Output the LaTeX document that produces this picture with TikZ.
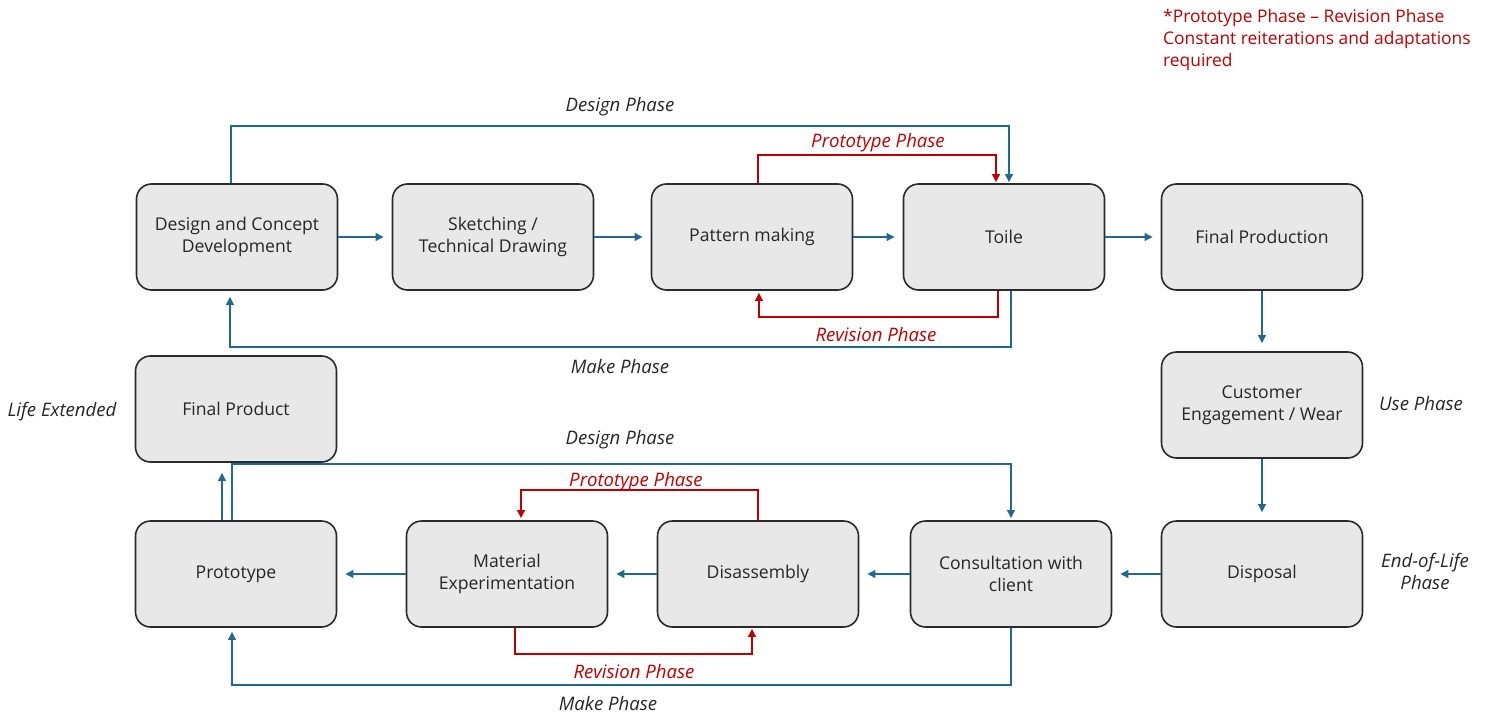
\documentclass[tikz,border=0pt]{standalone}
\usepackage{fontspec}
\setmainfont{Open Sans}
\usetikzlibrary{arrows.meta}
\definecolor{flowblue}{HTML}{1F6A8E}
\definecolor{loopred}{HTML}{C00000}
\definecolor{boxfill}{HTML}{E8E8E8}
\definecolor{boxline}{HTML}{2A2A2A}
\definecolor{ink}{HTML}{262626}
\tikzset{
  stage/.style={draw=boxline, line width=1.6pt, fill=boxfill, rounded corners=15pt,
    minimum width=201pt, minimum height=106pt, align=center, text=ink,
    font=\fontsize{17.6}{22}\selectfont, inner sep=0pt},
  tipb/.style={-{Triangle[length=8pt,width=7.5pt]}},
  flow/.style={draw=flowblue, line width=2pt, tipb, shorten >=8pt},
  phase/.style={draw=flowblue, line width=2pt, tipb},
  loop/.style={draw=loopred, line width=2pt, tipb},
  phaselabel/.style={font=\fontsize{18.6}{22}\selectfont\itshape, text=ink, inner sep=1pt},
  looplabel/.style={font=\fontsize{18.6}{22}\selectfont\itshape, text=loopred, inner sep=1pt},
}
\begin{document}
\begin{tikzpicture}[x=1pt, y=-1pt]
\useasboundingbox (0,0) rectangle (1489,717);

% upper row
\node[stage] (dcd)     at (237,237)  {Design and Concept\\Development};
\node[stage] (sketch)  at (493,237)  {Sketching /\\Technical Drawing};
\node[stage] (pattern) at (752,237)  {Pattern making};
\node[stage] (toile)   at (1004,237) {Toile};
\node[stage] (fprodn)  at (1262,237) {Final Production};

% middle row
\node[stage] (fproduct) at (236,409)  {Final Product};
\node[stage] (wear)     at (1262,405) {Customer\\Engagement / Wear};

% lower row
\node[stage] (proto)   at (236,574)  {Prototype};
\node[stage] (mat)     at (507,574)  {Material\\Experimentation};
\node[stage] (dis)     at (758,574)  {Disassembly};
\node[stage] (consult) at (1011,574) {Consultation with\\client};
\node[stage] (disp)    at (1262,574) {Disposal};

% main flow
\draw[flow] (dcd) -- (sketch);
\draw[flow] (sketch) -- (pattern);
\draw[flow] (pattern) -- (toile);
\draw[flow] (toile) -- (fprodn);
\draw[flow] (fprodn) -- (wear);
\draw[flow] (wear) -- (disp);
\draw[flow] (disp) -- (consult);
\draw[flow] (consult) -- (dis);
\draw[flow] (dis) -- (mat);
\draw[flow] (mat) -- (proto);
\draw[flow, shorten >=10pt] ([xshift=-14pt]proto.north) -- ([xshift=-14pt]fproduct.south);

% design / make phase loops, upper row
\draw[phase, shorten >=1pt] ([xshift=-6pt]dcd.north) -- ++(0,-57) -| ([xshift=5pt]toile.north);
\draw[phase, shorten >=6pt] ([xshift=7pt]toile.south) -- ++(0,56) -| ([xshift=-7pt]dcd.south);

% prototype / revision loops, upper row
\draw[loop, shorten >=1pt] ([xshift=6pt]pattern.north) -- ++(0,-28) -| ([xshift=-8pt]toile.north);
\draw[loop, shorten >=2pt] ([xshift=-6pt]toile.south) -- ++(0,26) -| ([xshift=7pt]pattern.south);

% design / make phase loops, lower row
\draw[phase, shorten >=2pt] ([xshift=-4pt]proto.north) -- ++(0,-56) -| (consult.north);
\draw[phase, shorten >=4pt] (consult.south) -- ++(0,57) -| ([xshift=-4pt]proto.south);

% prototype / revision loops, lower row
\draw[loop, shorten >=2pt] (dis.north) -- ++(0,-30) -| ([xshift=14pt]mat.north);
\draw[loop, shorten >=1pt] ([xshift=8pt]mat.south) -- ++(0,26) -| ([xshift=-6pt]dis.south);

% phase labels
\node[phaselabel] (ldes1)  at (620,107) {Design Phase};
\node[phaselabel] (lmake1) at (620,367) {Make Phase};
\node[looplabel]  (lpro1)  at (878,143) {Prototype Phase};
\node[looplabel]  (lrev1)  at (876,335) {Revision Phase};
\node[phaselabel] (ldes2)  at (620,440) {Design Phase};
\node[phaselabel] (lmake2) at (608,704) {Make Phase};
\node[looplabel]  (lpro2)  at (636,482) {Prototype Phase};
\node[looplabel]  (lrev2)  at (634,672) {Revision Phase};
\node[phaselabel] (llife)  at (62,412)  {Life Extended};
\node[phaselabel] (luse)   at (1421,404) {Use Phase};
\node[phaselabel, align=center] (leol) at (1425,571) {End-of-Life\\Phase};

% note
\node[anchor=north west, align=left, text=loopred, font=\fontsize{17.4}{22}\selectfont, inner sep=0pt]
  (note) at (1163,9) {*Prototype Phase -- Revision Phase\\Constant reiterations and adaptations\\required};
\end{tikzpicture}
\end{document}
